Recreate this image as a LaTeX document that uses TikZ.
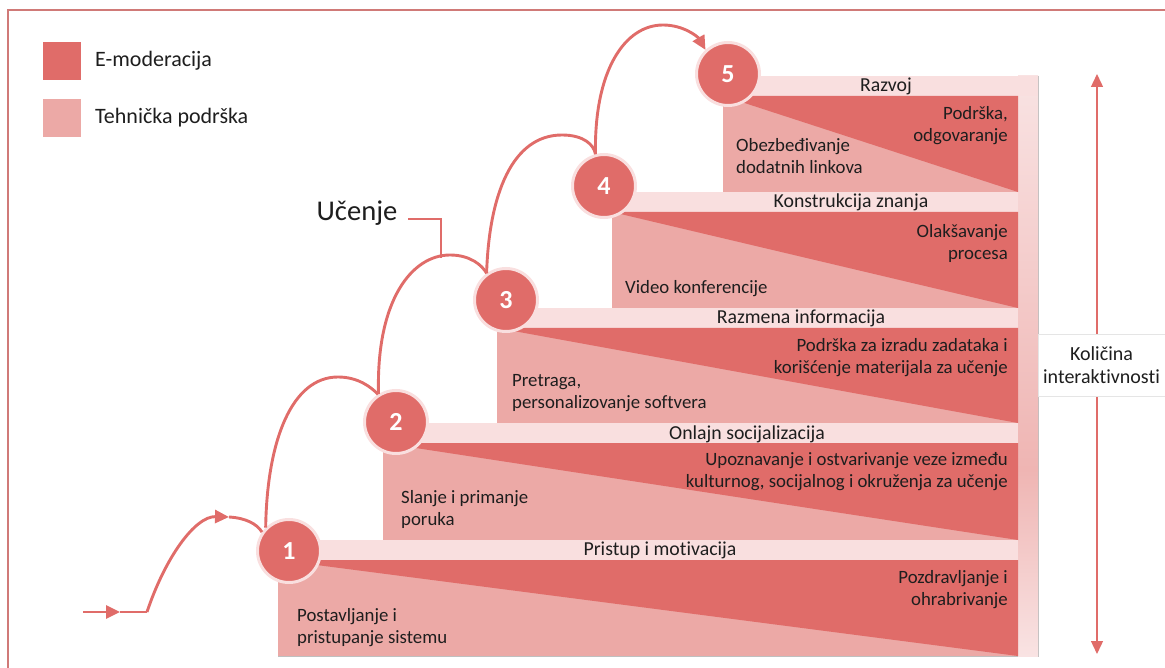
\documentclass[tikz,border=0pt]{standalone}
\usepackage{fontspec}
\setmainfont{Carlito}[Ligatures=NoCommon]
\usetikzlibrary{arrows.meta}
\definecolor{emod}{HTML}{E06C69}
\definecolor{tech}{HTML}{ECA9A6}
\definecolor{band}{HTML}{F9DFDF}
\definecolor{frm}{HTML}{D07A78}
\definecolor{txt}{HTML}{1E1E1E}
\definecolor{colmid}{HTML}{EFB5B3}
\definecolor{coltop}{HTML}{F9E3E3}
\tikzset{
  conn/.style={draw=emod, line width=2.9pt},
  tipend/.style={-{Triangle[length=14pt,width=13pt]}},
  num/.style={circle, fill=emod, draw=band, line width=3pt, minimum size=63pt, inner sep=0pt, text=white, font=\fontsize{26}{26}\selectfont\bfseries},
  body/.style={inner sep=0pt, text=txt, font=\fontsize{18.8}{22}\selectfont},
  bandtxt/.style={inner sep=0pt, text=txt, font=\fontsize{19.8}{22}\selectfont},
  legtxt/.style={inner sep=0pt, text=txt, font=\fontsize{22}{24}\selectfont, anchor=west},
  legbox/.style={minimum size=38pt, inner sep=0pt},
  stepedge/.style={draw=black!25, line width=0.7pt},
}
\begin{document}
\begin{tikzpicture}[x=1pt, y=-1pt]
\useasboundingbox (0,0) rectangle (1165,668);
% frame
\draw[frm, line width=2pt] (1165,10) -- (8,10) -- (8,668);
% legend
\node[legbox, fill=emod] (lg1) at (62,61) {};
\node[legtxt] (lt1) at (95,61) {E-moderacija};
\node[legbox, fill=tech] (lg2) at (62,118) {};
\node[legtxt] (lt2) at (95,118) {Tehnička podrška};
% staircase outline / shadow
\draw[stepedge, fill=white] (278,656) -- (278,540) -- (383,540) -- (383,423) -- (497,423) -- (497,308) -- (612,308) -- (612,192) -- (723,192) -- (723,76) -- (1038,76) -- (1038,656) -- cycle;
% right gradient column
\shade[top color=coltop, bottom color=colmid] (1018,76) rectangle (1038,470);
\shade[top color=colmid, bottom color=coltop] (1018,469.5) rectangle (1038,656);
% step 5
\fill[band] (723,76) rectangle (1038,96);
\fill[tech] (723,96) rectangle (1018,192);
\fill[emod] (723,96) -- (1018,96) -- (1018,192) -- cycle;
% step 4
\fill[band] (612,192) rectangle (1018,212);
\fill[tech] (612,212) rectangle (1018,308);
\fill[emod] (612,212) -- (1018,212) -- (1018,308) -- cycle;
% step 3
\fill[band] (497,308) rectangle (1018,328);
\fill[tech] (497,328) rectangle (1018,423);
\fill[emod] (497,328) -- (1018,328) -- (1018,423) -- cycle;
% step 2
\fill[band] (383,423) rectangle (1018,443);
\fill[tech] (383,443) rectangle (1018,540);
\fill[emod] (383,443) -- (1018,443) -- (1018,540) -- cycle;
% step 1
\fill[band] (278,540) rectangle (1018,560);
\fill[tech] (278,560) rectangle (1018,656);
\fill[emod] (278,560) -- (1018,560) -- (1018,656) -- cycle;
% band texts
\node[bandtxt] (b5) at (886,86) {Razvoj};
\node[bandtxt] (b4) at (851,202) {Konstrukcija znanja};
\node[bandtxt] (b3) at (801,318) {Razmena informacija};
\node[bandtxt] (b2) at (747,434) {Onlajn socijalizacija};
\node[bandtxt] (b1) at (660,550) {Pristup i motivacija};
% right texts (E-moderacija)
\node[body, anchor=east, align=right] (r5) at (1008,126) {Podrška,\\odgovaranje};
\node[body, anchor=east, align=right] (r4) at (1008,243) {Olakšavanje\\procesa};
\node[body, anchor=east, align=right] (r3) at (1008,358) {Podrška za izradu zadataka i\\korišćenje materijala za učenje};
\node[body, anchor=east, align=right] (r2) at (1008,472) {Upoznavanje i ostvarivanje veze između\\kulturnog, socijalnog i okruženja za učenje};
\node[body, anchor=east, align=right] (r1) at (1008,590) {Pozdravljanje i\\ohrabrivanje};
% left texts (tehnicka podrska)
\node[body, anchor=west, align=left] (l5) at (736,156) {Obezbeđivanje\\dodatnih linkova};
\node[body, anchor=west, align=left] (l4) at (625,289) {Video konferencije};
\node[body, anchor=west, align=left] (l3) at (512,393) {Pretraga,\\personalizovanje softvera};
\node[body, anchor=west, align=left] (l2) at (401,509) {Slanje i primanje\\poruka};
\node[body, anchor=west, align=left] (l1) at (297,628) {Postavljanje i\\pristupanje sistemu};
% circles (nodes)
\node[num] (c1) at (289,551) {1};
\node[num] (c2) at (396,422) {2};
\node[num] (c3) at (506,300) {3};
\node[num] (c4) at (604,186) {4};
\node[num] (c5) at (728,74) {5};
% entry arrow
\coordinate (in0) at (83,612);
\coordinate (inA) at (120,612);
\coordinate (in1) at (147,612);
\coordinate (inpk) at (229,517);
\draw[conn, tipend] (in0) -- (inA);
\draw[conn] (inA) -- (in1);
\draw[conn, tipend] (in1) .. controls (165,558) and (195,516) .. (inpk);
\draw[conn] (inpk) .. controls (246,518) and (257,524) .. (c1.145);
% 1 -> 2
\coordinate (p12) at (338,377);
\draw[conn] (c1.135) .. controls (267,440) and (292,377) .. (p12) .. controls (358,377) and (371,387) .. (c2.123);
% 2 -> 3
\coordinate (p23) at (450,255);
\draw[conn] (c2.122) .. controls (376,300) and (412,255) .. (p23) .. controls (470,255) and (482,265) .. (c3.126);
% 3 -> 4
\coordinate (p34) at (562,135);
\draw[conn] (c3.126) .. controls (489,195) and (512,135) .. (p34) .. controls (584,135) and (594,145) .. (c4.105);
% 4 -> 5
\coordinate (p45) at (663,25);
\draw[conn] (c4.105) .. controls (594,70) and (625,25) .. (p45);
\draw[conn, tipend] (p45) .. controls (684,25) and (698,37) .. (c5.133);
% Ucenje label
\node[inner sep=0pt, text=txt, font=\fontsize{28.6}{28}\selectfont] (uc) at (357,213) {Učenje};
\coordinate (uc0) at (408,219);
\coordinate (ucpt) at (441,258);
\draw[conn] (uc0) -| (ucpt);
% interactivity axis
\coordinate (ax1) at (1097,74);
\coordinate (ax2) at (1097,654);
\draw[emod, line width=1.4pt, {Triangle[length=13pt,width=12pt]}-{Triangle[length=13pt,width=12pt]}] (ax1) -- (ax2);
\node[fill=white, draw=black!10, minimum width=127pt, minimum height=62pt, inner sep=0pt, align=center, text=txt, font=\fontsize{20}{23}\selectfont] (kol) at (1101.5,365) {Količina\\interaktivnosti};
\end{tikzpicture}
\end{document}
